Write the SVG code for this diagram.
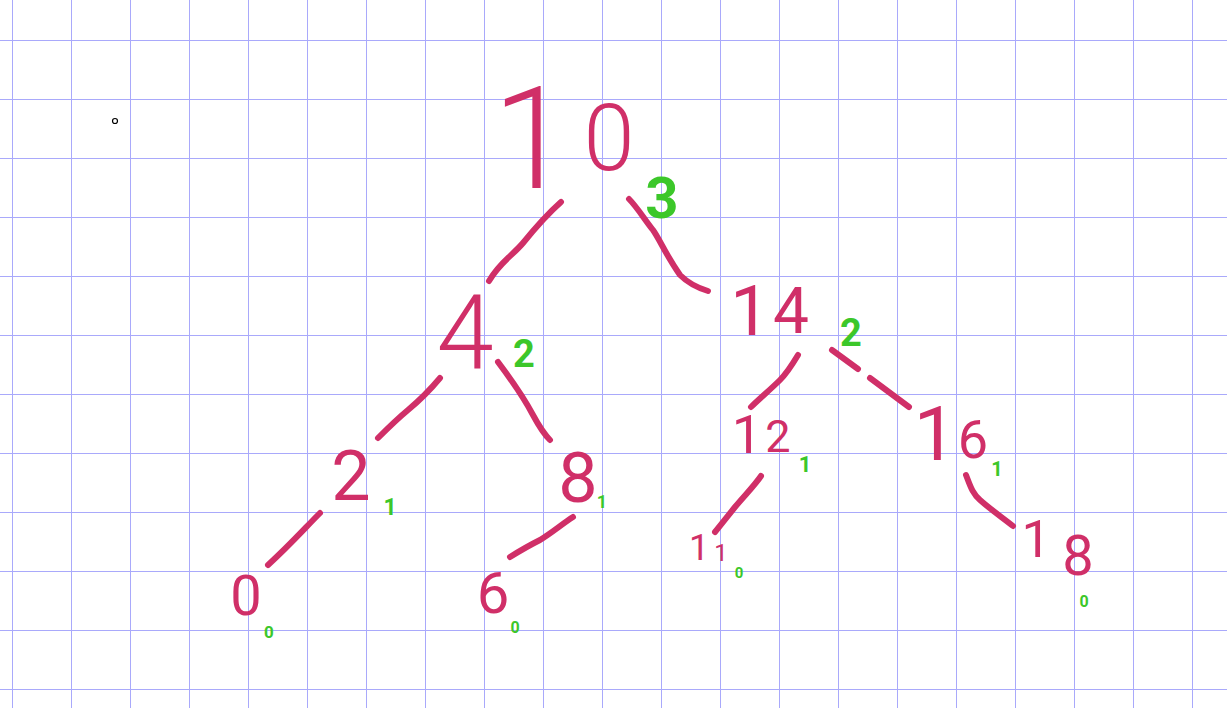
<svg xmlns="http://www.w3.org/2000/svg" width="1227" height="708" viewBox="0 0 1227 708">
<style>
.grid line{stroke:#a9a9fb;stroke-width:1}
.r{fill:#d02f68;font-family:Roboto,"Liberation Sans",sans-serif;font-weight:400;text-anchor:middle}
.big{font-weight:300}
.g{fill:#3cc72a;font-family:Roboto,"Liberation Sans",sans-serif;font-weight:700;text-anchor:middle}
.edges path{fill:none;stroke:#d02f68;stroke-width:6;stroke-linecap:round;stroke-linejoin:round}
</style>
<rect width="1227" height="708" fill="#ffffff"/>
<g class="grid">
<line x1="12.5" y1="0" x2="12.5" y2="708"/><line x1="71.5" y1="0" x2="71.5" y2="708"/><line x1="130.5" y1="0" x2="130.5" y2="708"/><line x1="189.5" y1="0" x2="189.5" y2="708"/><line x1="248.5" y1="0" x2="248.5" y2="708"/><line x1="307.5" y1="0" x2="307.5" y2="708"/><line x1="366.5" y1="0" x2="366.5" y2="708"/><line x1="425.5" y1="0" x2="425.5" y2="708"/><line x1="484.5" y1="0" x2="484.5" y2="708"/><line x1="543.5" y1="0" x2="543.5" y2="708"/><line x1="602.5" y1="0" x2="602.5" y2="708"/><line x1="661.5" y1="0" x2="661.5" y2="708"/><line x1="720.5" y1="0" x2="720.5" y2="708"/><line x1="779.5" y1="0" x2="779.5" y2="708"/><line x1="838.5" y1="0" x2="838.5" y2="708"/><line x1="897.5" y1="0" x2="897.5" y2="708"/><line x1="956.5" y1="0" x2="956.5" y2="708"/><line x1="1015.5" y1="0" x2="1015.5" y2="708"/><line x1="1074.5" y1="0" x2="1074.5" y2="708"/><line x1="1133.5" y1="0" x2="1133.5" y2="708"/><line x1="1192.5" y1="0" x2="1192.5" y2="708"/>
<line x1="0" y1="40.5" x2="1227" y2="40.5"/><line x1="0" y1="99.5" x2="1227" y2="99.5"/><line x1="0" y1="158.5" x2="1227" y2="158.5"/><line x1="0" y1="217.5" x2="1227" y2="217.5"/><line x1="0" y1="276.5" x2="1227" y2="276.5"/><line x1="0" y1="335.5" x2="1227" y2="335.5"/><line x1="0" y1="394.5" x2="1227" y2="394.5"/><line x1="0" y1="453.5" x2="1227" y2="453.5"/><line x1="0" y1="512.5" x2="1227" y2="512.5"/><line x1="0" y1="571.5" x2="1227" y2="571.5"/><line x1="0" y1="630.5" x2="1227" y2="630.5"/><line x1="0" y1="689.5" x2="1227" y2="689.5"/>
</g>
<circle cx="115" cy="121" r="2.5" fill="none" stroke="#000" stroke-width="1.2"/>
<g class="edges" id="connectors">
<path d="M561,202 C552,210 540,222 523,243 C512,256 500,262 489,281"/>
<path d="M629,199 C637,207 645,220 653,230 C660,240 666,255 680,275 C688,283 698,288 708,291"/>
<path d="M440,378 C430,390 420,400 408,410 C396,420 386,430 378,438"/>
<path d="M498,362 C510,378 525,400 533,415 C540,428 545,435 550,440"/>
<path d="M320,513 C305,528 290,545 268,565"/>
<path d="M573,517 C562,524 553,532 540,540 C528,546 518,552 510,557"/>
<path d="M798,355 C792,365 786,374 780,380 C770,390 760,398 751,407"/>
<path d="M832,350 L858,369"/>
<path d="M870,378 L909,407"/>
<path d="M761,476 C755,485 745,495 735,507 C727,517 720,526 715,532"/>
<path d="M966,475 C970,485 972,493 980,500 C990,509 1003,518 1013,526"/>
</g>
<g id="n10"><text class="r big" y="188"><tspan x="532" font-size="142">1</tspan><tspan x="609" y="170" font-size="92">0</tspan></text><text class="g" x="662" y="218" font-size="58">3</text></g>
<g id="n4"><text class="r big" x="465" y="369" font-size="103">4</text><text class="g" x="524" y="367" font-size="38">2</text></g>
<g id="n14"><text class="r" y="335"><tspan x="750" font-size="70">1</tspan><tspan x="791" y="333" font-size="64">4</tspan></text><text class="g" x="851" y="346" font-size="38">2</text></g>
<g id="n2"><text class="r" x="351" y="500" font-size="70">2</text><text class="g" x="390" y="515" font-size="23">1</text></g>
<g id="n8"><text class="r" x="578" y="502" font-size="70">8</text><text class="g" x="602" y="508" font-size="18">1</text></g>
<g id="n0"><text class="r" x="246" y="615" font-size="56">0</text><text class="g" x="269" y="638" font-size="17">0</text></g>
<g id="n6"><text class="r" x="493" y="613" font-size="58">6</text><text class="g" x="515" y="633" font-size="16">0</text></g>
<g id="n12"><text class="r" y="453"><tspan x="747" font-size="54">1</tspan><tspan x="778" y="452" font-size="45">2</tspan></text><text class="g" x="805" y="472" font-size="22">1</text></g>
<g id="n16"><text class="r" y="460"><tspan x="935" font-size="76">1</tspan><tspan x="973" y="458" font-size="54">6</tspan></text><text class="g" x="997" y="476" font-size="20">1</text></g>
<g id="n11"><text class="r" y="560"><tspan x="699" font-size="36">1</tspan><tspan x="721" y="561" font-size="24">1</tspan></text><text class="g" x="739" y="578" font-size="15">0</text></g>
<g id="n18"><text class="r" y="557"><tspan x="1036" font-size="52">1</tspan><tspan x="1078" y="575" font-size="56">8</tspan></text><text class="g" x="1084" y="607" font-size="16">0</text></g>
</svg>
